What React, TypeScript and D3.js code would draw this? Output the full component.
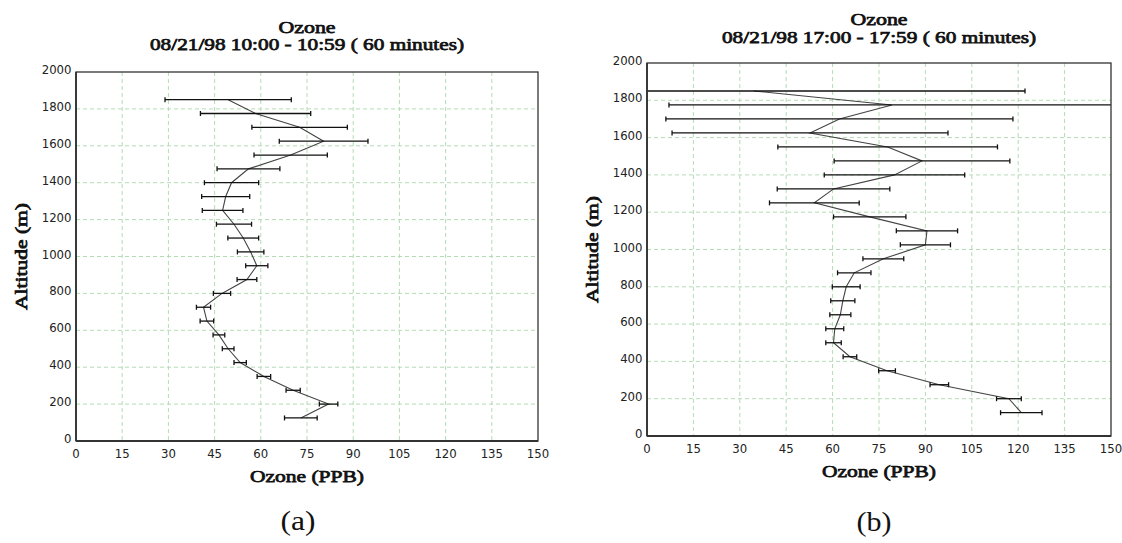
import React from 'react';
import * as d3 from 'd3';

// altitude levels (m), shared by both profiles
const altitudes = [125, 200, 275, 350, 425, 500, 575, 650, 725, 800, 875, 950, 1025, 1100, 1175, 1250, 1325, 1400, 1475, 1550, 1625, 1700, 1775, 1850];

// (a) 10:00 - 10:59
const meanA = [73, 82, 70.5, 61, 53.3, 49.4, 46.4, 42.5, 41.4, 47.4, 55.5, 58.7, 56.7, 54.3, 51.3, 47.6, 48.6, 50.5, 56, 69.7, 80.4, 72.6, 58.3, 49.4];
const errA = [5.3, 3, 2.3, 2.2, 2, 1.9, 1.9, 2.2, 2.3, 2.8, 3.2, 3.6, 4.3, 5, 5.7, 6.6, 7.8, 8.8, 10.2, 11.9, 14.4, 15.5, 17.9, 20.5];

// (b) 17:00 - 17:59
const meanB = [121, 117, 94.5, 77.6, 65.6, 60.3, 60.7, 62.5, 63.3, 64.4, 67, 76.4, 90, 90.5, 72, 54.1, 60.3, 80, 88.9, 77.8, 52.7, 62.2, 79.2, 34.5];
const errB = [6.7, 4, 3, 2.7, 2.2, 2.5, 2.9, 3.4, 3.9, 4.5, 5.4, 6.6, 8.1, 9.9, 11.7, 14.5, 18.2, 22.7, 28.4, 35.5, 44.6, 56.1, 72.1, 87.7];

const xTicks = [0, 15, 30, 45, 60, 75, 90, 105, 120, 135, 150];
const yTicks = [0, 200, 400, 600, 800, 1000, 1200, 1400, 1600, 1800, 2000];

const serif = 'Liberation Serif, DejaVu Serif, serif';
const narrow = 'Liberation Sans Narrow, DejaVu Sans Condensed, sans-serif';

type PanelProps = {
  id: string;
  left: number; top: number; right: number; bottom: number;
  means: number[]; errs: number[];
  subtitle: string;
  t1: number; t2: number;
  xTitleY: number; yTitleX: number;
  letter: string; letterX: number; letterY: number;
};

// bold serif face is missing, so thicken the regular one with a stroke
const boldSerif = {
  fontFamily: serif, fontWeight: 400, fontSize: '17px',
  fill: '#111', stroke: '#111', strokeWidth: 0.75,
};

const Panel = (p: PanelProps) => {
  const x = d3.scaleLinear().domain([0, 150]).range([p.left, p.right]);
  const y = d3.scaleLinear().domain([0, 2000]).range([p.bottom, p.top]);
  const cx = (p.left + p.right) / 2;
  const cy = (p.top + p.bottom) / 2;
  const pts = altitudes.map((a, i) => [x(p.means[i]), y(a)] as [number, number]);
  const line = d3.line()(pts) || '';

  return (
    <g>
      <defs>
        <clipPath id={`clip-${p.id}`}>
          <rect x={p.left} y={p.top} width={p.right - p.left} height={p.bottom - p.top} />
        </clipPath>
      </defs>

      {/* grid */}
      {xTicks.slice(1, -1).map(t => (
        <line key={'gx' + t} x1={x(t)} x2={x(t)} y1={p.top} y2={p.bottom}
          stroke="#b4dcb4" strokeWidth={1} strokeDasharray="4,3" />
      ))}
      {yTicks.slice(1, -1).map(t => (
        <line key={'gy' + t} x1={p.left} x2={p.right} y1={y(t)} y2={y(t)}
          stroke="#b4dcb4" strokeWidth={1} strokeDasharray="4,3" />
      ))}

      <g clipPath={`url(#clip-${p.id})`}>
        <path d={line} fill="none" stroke="#444" strokeWidth={1.1} />
        {altitudes.map((a, i) => {
          const x1 = x(p.means[i] - p.errs[i]);
          const x2 = x(p.means[i] + p.errs[i]);
          const yy = y(a);
          return (
            <g key={'e' + a} stroke="#111" strokeWidth={1.3}>
              <line x1={x1} x2={x2} y1={yy} y2={yy} />
              <line x1={x1} x2={x1} y1={yy - 2.5} y2={yy + 2.5} />
              <line x1={x2} x2={x2} y1={yy - 2.5} y2={yy + 2.5} />
            </g>
          );
        })}
      </g>

      {/* frame */}
      <rect x={p.left} y={p.top} width={p.right - p.left} height={p.bottom - p.top}
        fill="none" stroke="#333" strokeWidth={1.3} />
      <line x1={p.left} x2={p.left} y1={p.top} y2={p.bottom} stroke="#333" strokeWidth={1.8} />
      <line x1={p.left} x2={p.right} y1={p.bottom} y2={p.bottom} stroke="#333" strokeWidth={1.8} />

      {/* tick labels */}
      {xTicks.map(t => (
        <text key={'tx' + t} x={x(t)} y={p.bottom + 16.5} textAnchor="middle"
          style={{ fontFamily: narrow, fontSize: '13px', fill: '#222' }}>{t}</text>
      ))}
      {yTicks.map(t => (
        <text key={'ty' + t} x={p.left - 4.5} y={y(t) + 2} textAnchor="end"
          style={{ fontFamily: narrow, fontSize: '13px', fill: '#222' }}>{t}</text>
      ))}

      {/* titles */}
      <text x={cx} y={p.t1} textAnchor="middle" style={boldSerif}
        textLength={57} lengthAdjust="spacingAndGlyphs">Ozone</text>
      <text x={cx} y={p.t2} textAnchor="middle" style={boldSerif}
        textLength={314} lengthAdjust="spacingAndGlyphs">{p.subtitle}</text>
      <text x={cx} y={p.xTitleY} textAnchor="middle" style={boldSerif}
        textLength={114} lengthAdjust="spacingAndGlyphs">Ozone (PPB)</text>
      <text transform={`translate(${p.yTitleX},${cy}) rotate(-90)`} textAnchor="middle"
        style={boldSerif} textLength={107} lengthAdjust="spacingAndGlyphs">Altitude (m)</text>

      <text x={p.letterX} y={p.letterY} textAnchor="middle"
        style={{ fontFamily: serif, fontSize: '28px', fill: '#111' }}
        textLength={35} lengthAdjust="spacingAndGlyphs">{p.letter}</text>
    </g>
  );
};

export default function App() {
  return (
    <svg width={1122} height={543} viewBox="0 0 1122 543"
      style={{ position: 'absolute', left: 0, top: 0, background: '#fff' }}>
      <rect width={1122} height={543} fill="#fff" />
      <Panel id="a" left={76} top={72} right={538} bottom={441}
        means={meanA} errs={errA} subtitle="08/21/98 10:00 - 10:59 ( 60 minutes)"
        t1={33} t2={50} xTitleY={482} yTitleX={26.5}
        letter="(a)" letterX={298} letterY={530} />
      <Panel id="b" left={647} top={63} right={1111} bottom={436}
        means={meanB} errs={errB} subtitle="08/21/98 17:00 - 17:59 ( 60 minutes)"
        t1={25} t2={42.5} xTitleY={477} yTitleX={597.5}
        letter="(b)" letterX={874} letterY={531} />
    </svg>
  );
}
